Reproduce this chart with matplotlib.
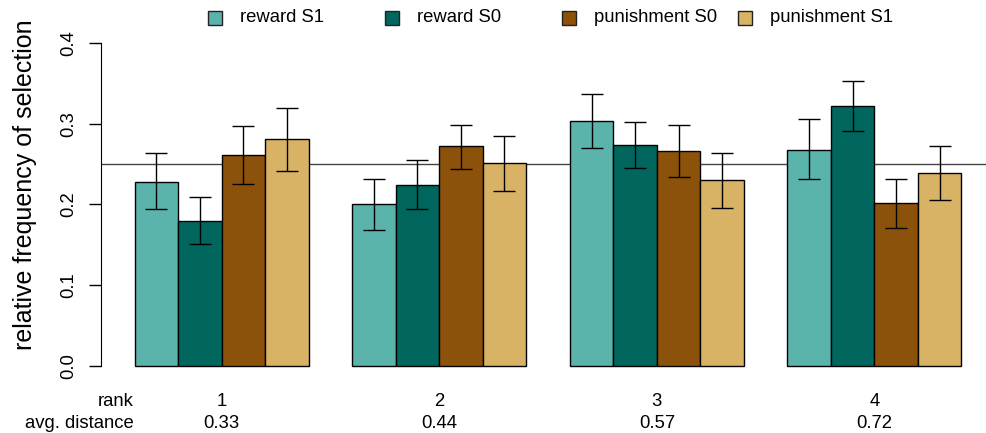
import matplotlib
matplotlib.use("Agg")
import matplotlib.pyplot as plt
from matplotlib.transforms import blended_transform_factory
import numpy as np

plt.rcParams['font.family'] = ['Liberation Sans', 'DejaVu Sans']

# data
groups = ['reward S1', 'reward S0', 'punishment S0', 'punishment S1']
colors = ['#5AB4AC', '#01665E', '#8C510A', '#D8B365']
ranks = ['1', '2', '3', '4']
avg_dist = ['0.33', '0.44', '0.57', '0.72']

means = np.array([
    [0.228, 0.200, 0.303, 0.268],   # reward S1
    [0.180, 0.224, 0.274, 0.322],   # reward S0
    [0.261, 0.272, 0.266, 0.202],   # punishment S0
    [0.281, 0.251, 0.230, 0.239],   # punishment S1
])
upper = np.array([
    [0.264, 0.232, 0.337, 0.306],
    [0.209, 0.255, 0.302, 0.353],
    [0.297, 0.298, 0.298, 0.232],
    [0.320, 0.285, 0.264, 0.272],
])
lower = np.array([
    [0.194, 0.169, 0.270, 0.232],
    [0.151, 0.194, 0.245, 0.291],
    [0.225, 0.244, 0.234, 0.171],
    [0.241, 0.217, 0.196, 0.206],
])
chance = 0.25

fig = plt.figure(figsize=(9.87, 4.33), dpi=100)
ax = fig.add_axes([101.5 / 987, 54 / 433, (987 - 101.5) / 987, 349 / 433])

# R barplot layout: bars of width 1, one empty slot between groups
ngroup = means.shape[1]
ax.axhline(chance, color='#444444', lw=1.0, zorder=1)
for i in range(len(groups)):
    x = np.arange(ngroup) * 5 + 1.5 + i
    ax.bar(x, means[i], width=1.0, color=colors[i], edgecolor='black',
           linewidth=1.0, zorder=2)
    ax.errorbar(x, means[i], yerr=[means[i] - lower[i], upper[i] - means[i]],
                fmt='none', ecolor='black', elinewidth=1.0, capsize=8,
                capthick=1.0, zorder=3)

ax.set_xlim(0.24, 0.24 + (987 - 101.5) / 43.52)
ax.set_ylim(-0.016, 0.416)
for s in ['top', 'right', 'bottom']:
    ax.spines[s].set_visible(False)
ax.spines['left'].set_bounds(0, 0.4)
ax.set_xticks([])
ax.set_yticks([0.0, 0.1, 0.2, 0.3, 0.4])
ax.set_yticklabels(['0.0', '0.1', '0.2', '0.3', '0.4'], rotation=90, va='center')
ax.tick_params(axis='y', length=8.3, width=1, pad=9.5, labelsize=13.3)

fig.text(25 / 987, (433 - 184.5) / 433, 'relative frequency of selection',
         rotation=90, ha='center', va='center', fontsize=18)

# rank / distance rows under the groups
tr = blended_transform_factory(ax.transData, fig.transFigure)
centres = np.arange(ngroup) * 5 + 3
ax.text(0.98, (433 - 401) / 433, 'rank', transform=tr, ha='right', va='center', fontsize=13.3)
ax.text(0.98, (433 - 424) / 433, 'avg. distance', transform=tr, ha='right', va='center', fontsize=13.3)
for c, r, d in zip(centres, ranks, avg_dist):
    ax.text(c, (433 - 401) / 433, r, transform=tr, ha='center', va='center', fontsize=13.3)
    ax.text(c, (433 - 424) / 433, d, transform=tr, ha='center', va='center', fontsize=13.3)

# legend along the top
leg_x = [215.5, 392, 569, 745]
leg_y = (433 - 18) / 433
for lx, name, col in zip(leg_x, groups, colors):
    fig.add_artist(plt.Line2D([lx / 987], [leg_y], marker='s', ms=9.5, mfc=col,
                              mec='#222222', mew=1.0, ls='none',
                              transform=fig.transFigure))
    fig.text((lx + 25) / 987, leg_y, name, ha='left', va='center', fontsize=13.3)

fig.savefig('out.png', dpi=100)
